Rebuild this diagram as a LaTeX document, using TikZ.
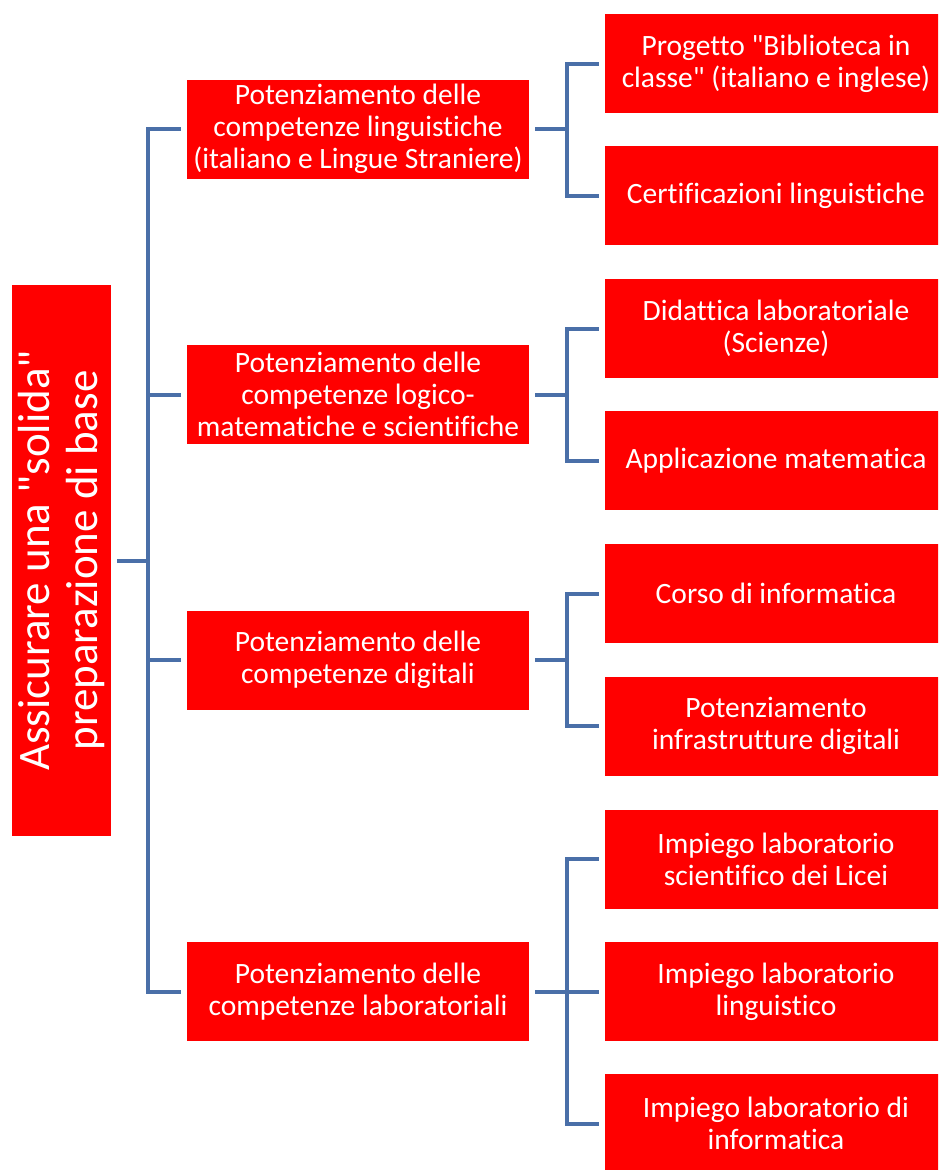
\documentclass[tikz,border=0pt]{standalone}
\usepackage{fontspec}
\setmainfont{Carlito}[Ligatures={TeXOff,CommonOff}]
\definecolor{linkblue}{HTML}{4A6FA8}
\definecolor{boxred}{HTML}{FF0000}
\begin{document}
\begin{tikzpicture}[x=1pt,y=-1pt,
  box/.style={fill=boxred,text=white,minimum width=342pt,minimum height=99pt,align=center,inner sep=0pt,font=\fontsize{29.5}{32}\selectfont},
  rootbox/.style={fill=boxred,text=white,minimum width=551pt,minimum height=99pt,align=center,inner sep=0pt,rotate=90,font=\fontsize{45}{48}\selectfont},
  link/.style={draw=linkblue,line width=4pt}]
\useasboundingbox (0,0) rectangle (938,1170);
\begin{scope}
\clip (0,0) rectangle (938,1170);
\node[rootbox] (root) at (61.5,560.5) {Assicurare una "solida"\\preparazione di base};
\node[box] (m1) at (358,129) {Potenziamento delle\\competenze linguistiche\\(italiano e Lingue Straniere)};
\node[box] (m2) at (358,394.5) {Potenziamento delle\\competenze logico-\\matematiche e scientifiche};
\node[box] (m3) at (358,660) {Potenziamento delle\\competenze digitali};
\node[box] (m4) at (358,991.5) {Potenziamento delle\\competenze laboratoriali};
\node[box] (r1) at (776,63.5) {Progetto "Biblioteca in\\classe" (italiano e inglese)};
\node[box] (r2) at (776,195.5) {Certificazioni linguistiche};
\node[box] (r3) at (776,328.5) {Didattica laboratoriale\\(Scienze)};
\node[box] (r4) at (776,460.5) {Applicazione matematica};
\node[box] (r5) at (776,593.5) {Corso di informatica};
\node[box] (r6) at (776,726) {Potenziamento\\infrastrutture digitali};
\node[box] (r7) at (776,859) {Impiego laboratorio\\scientifico dei Licei};
\node[box] (r8) at (776,991.5) {Impiego laboratorio\\linguistico};
\node[box] (r9) at (776,1123.5) {Impiego laboratorio di\\informatica};
\end{scope}
% root to middle
\coordinate (rj) at ([xshift=37pt]root.south);
\draw[link] ([xshift=6pt]root.south) -- (rj);
\foreach \m in {m1,m2,m3,m4}{
  \draw[link] ([xshift=-6pt]\m.west) -- ++(-33,0) coordinate (tmp) -- (tmp |- rj);
}
% middle to right
\foreach \m/\rs in {m1/{r1,r2},m2/{r3,r4},m3/{r5,r6},m4/{r7,r8,r9}}{
  \draw[link] ([xshift=6pt]\m.east) -- ++(32,0);
  \foreach \r in \rs {
    \draw[link] ([xshift=-6pt]\r.west) -- ++(-32,0) coordinate (tmp) -- (tmp |- \m.east);
  }
}
\end{tikzpicture}
\end{document}
